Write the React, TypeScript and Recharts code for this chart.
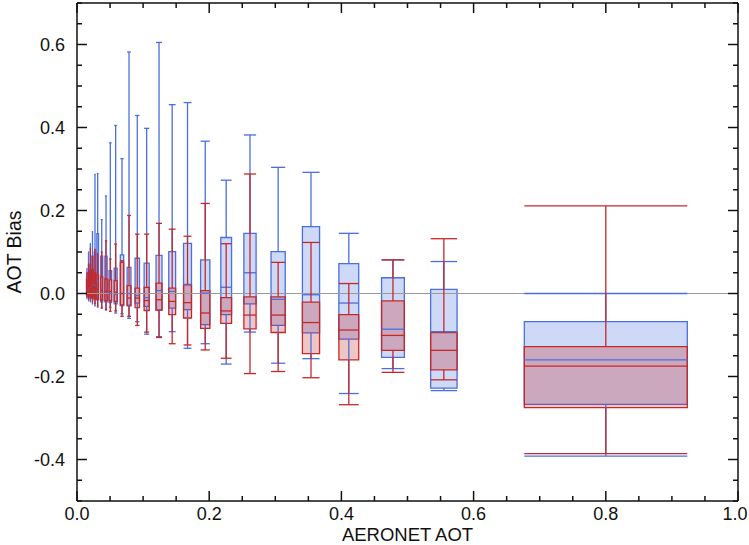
import React from 'react';
import { ComposedChart, XAxis, YAxis, Line, ReferenceArea, ReferenceLine } from 'recharts';

// AERONET AOT bins (centre) and drawn box width, both in AOT units
const binCenter = [0.015, 0.0174, 0.0202, 0.0234, 0.0272, 0.0313, 0.0374, 0.0439, 0.0504, 0.0585, 0.0681, 0.0787, 0.0912, 0.1054, 0.1241, 0.144, 0.1672, 0.194, 0.2257, 0.2617, 0.3043, 0.354, 0.4112, 0.478, 0.555, 0.8];
const boxWidth = [0.0012, 0.0014, 0.0016, 0.0019, 0.0022, 0.0025, 0.003, 0.0034, 0.0039, 0.0045, 0.0051, 0.0058, 0.0067, 0.0077, 0.009, 0.0104, 0.012, 0.014, 0.0163, 0.0185, 0.0215, 0.026, 0.03, 0.0345, 0.04, 0.2466];

// blue series
const blueLow = [-0.012, -0.018, -0.02, -0.025, -0.03, -0.033, -0.035, -0.04, -0.033, -0.047, -0.049, -0.06, -0.068, -0.098, -0.104, -0.092, -0.132, -0.121, -0.17, -0.093, -0.168, -0.157, -0.241, -0.181, -0.234, -0.392];
const blueQ1 = [-0.005, -0.008, -0.01, -0.012, -0.015, -0.015, -0.02, -0.02, -0.022, -0.025, -0.027, -0.028, -0.023, -0.031, -0.04, -0.035, -0.039, -0.075, -0.051, -0.025, -0.077, -0.095, -0.11, -0.154, -0.228, -0.267];
const blueMedian = [0.008, 0.01, 0.015, 0.02, 0.02, 0.03, 0.01, 0.005, 0.0, -0.002, 0.0, 0.0, -0.005, -0.01, 0.007, 0.005, 0.022, 0.001, 0.015, 0.05, -0.014, -0.003, -0.023, -0.086, -0.092, -0.16];
const blueQ3 = [0.035, 0.05, 0.07, 0.09, 0.1, 0.144, 0.09, 0.09, 0.055, 0.061, 0.093, 0.063, 0.085, 0.073, 0.092, 0.101, 0.121, 0.081, 0.135, 0.145, 0.101, 0.161, 0.072, 0.038, 0.01, -0.068];
const blueHigh = [0.06, 0.1, 0.12, 0.149, 0.287, 0.289, 0.178, 0.235, 0.363, 0.405, 0.325, 0.582, 0.429, 0.398, 0.605, 0.455, 0.46, 0.367, 0.273, 0.382, 0.304, 0.292, 0.145, 0.081, 0.077, 0.0];

// red series
const redLow = [-0.008, -0.012, -0.015, -0.02, -0.025, -0.03, -0.035, -0.038, -0.043, -0.042, -0.055, -0.055, -0.077, -0.093, -0.106, -0.121, -0.124, -0.136, -0.156, -0.193, -0.188, -0.203, -0.268, -0.19, -0.208, -0.386];
const redQ1 = [-0.003, -0.005, -0.007, -0.01, -0.012, -0.014, -0.015, -0.017, -0.017, -0.019, -0.029, -0.03, -0.034, -0.041, -0.04, -0.051, -0.059, -0.084, -0.072, -0.085, -0.094, -0.145, -0.16, -0.137, -0.184, -0.275];
const redMedian = [0.012, 0.015, 0.018, 0.015, 0.012, 0.01, 0.008, 0.005, 0.005, 0.003, 0.0, -0.011, -0.011, -0.017, -0.015, -0.019, -0.022, -0.047, -0.042, -0.052, -0.052, -0.07, -0.088, -0.101, -0.137, -0.175];
const redQ3 = [0.04, 0.05, 0.055, 0.058, 0.05, 0.045, 0.04, 0.035, 0.033, 0.031, 0.075, 0.019, 0.013, 0.015, 0.025, 0.013, 0.021, 0.007, -0.01, -0.008, -0.008, -0.021, -0.051, -0.018, -0.094, -0.128];
const redHigh = [0.05, 0.072, 0.109, 0.09, 0.106, 0.095, 0.1, 0.127, 0.083, 0.119, 0.079, 0.188, 0.143, 0.143, 0.169, 0.155, 0.138, 0.217, 0.12, 0.288, 0.075, 0.123, 0.024, 0.081, 0.132, 0.211];

const xTicks = [0, 0.05, 0.1, 0.15, 0.2, 0.25, 0.3, 0.35, 0.4, 0.45, 0.5, 0.55, 0.6, 0.65, 0.7, 0.75, 0.8, 0.85, 0.9, 0.95, 1.0];
const yTicks = [-0.5, -0.45, -0.4, -0.35, -0.3, -0.25, -0.2, -0.15, -0.1, -0.05, 0, 0.05, 0.1, 0.15, 0.2, 0.25, 0.3, 0.35, 0.4, 0.45, 0.5, 0.55, 0.6, 0.65, 0.7];

const rows = binCenter.map((x, i) => ({ x, blueMed: blueMedian[i], redMed: redMedian[i] }));

const BLUE = '#4a6fe0';
const RED = '#c62828';
const AXIS = '#111';
const FONT = '"Liberation Sans", Arial, Helvetica, sans-serif';

const isMajor = (v: number) => Math.abs(v * 5 - Math.round(v * 5)) < 1e-6;

const BottomTick = (p: any) => {
  const v = p.payload.value;
  const major = isMajor(v);
  return (
    <g>
      <line x1={p.x} x2={p.x} y1={p.y} y2={p.y - (major ? 10 : 5)} stroke={AXIS} strokeWidth={1.5} />
      {major && (
        <text x={Math.min(p.x, 735)} y={p.y + 19} textAnchor="middle" fontSize={18} fontFamily={FONT} fill="#111">
          {v.toFixed(1)}
        </text>
      )}
    </g>
  );
};

const TopTick = (p: any) => {
  const major = isMajor(p.payload.value);
  return <line x1={p.x} x2={p.x} y1={p.y} y2={p.y + (major ? 10 : 5)} stroke={AXIS} strokeWidth={1.5} />;
};

const LeftTick = (p: any) => {
  const v = p.payload.value;
  const major = isMajor(v);
  return (
    <g>
      <line x1={p.x} x2={p.x + (major ? 10 : 5)} y1={p.y} y2={p.y} stroke={AXIS} strokeWidth={1.5} />
      {major && (
        <text x={p.x - 12} y={p.y + 6.5} textAnchor="end" fontSize={18} fontFamily={FONT} fill="#111">
          {v.toFixed(1)}
        </text>
      )}
    </g>
  );
};

const RightTick = (p: any) => {
  const major = isMajor(p.payload.value);
  return <line x1={p.x} x2={p.x - (major ? 10 : 5)} y1={p.y} y2={p.y} stroke={AXIS} strokeWidth={1.5} />;
};

function boxSeries(name: string, color: string, low: number[], q1: number[], med: number[], q3: number[], high: number[]) {
  const out: React.ReactNode[] = [];
  binCenter.forEach((c, i) => {
    const l = c - boxWidth[i] / 2;
    const r = c + boxWidth[i] / 2;
    const ln = { stroke: color, strokeWidth: 1.3 };
    out.push(
      <ReferenceArea key={`${name}-box-${i}`} x1={l} x2={r} y1={q1[i]} y2={q3[i]} fill={color} fillOpacity={0.27} stroke={color} strokeWidth={1.3} />,
      <ReferenceLine key={`${name}-med-${i}`} segment={[{ x: l, y: med[i] }, { x: r, y: med[i] }]} {...ln} />,
      <ReferenceLine key={`${name}-up-${i}`} segment={[{ x: c, y: q3[i] }, { x: c, y: high[i] }]} {...ln} />,
      <ReferenceLine key={`${name}-dn-${i}`} segment={[{ x: c, y: low[i] }, { x: c, y: q1[i] }]} {...ln} />,
      <ReferenceLine key={`${name}-hc-${i}`} segment={[{ x: l, y: high[i] }, { x: r, y: high[i] }]} {...ln} />,
      <ReferenceLine key={`${name}-lc-${i}`} segment={[{ x: l, y: low[i] }, { x: r, y: low[i] }]} {...ln} />,
    );
  });
  return out;
}

const YTitle = (p: any) => {
  const vb = p.viewBox || { x: 0, y: 0, width: 77, height: 498 };
  const cy = vb.y + vb.height / 2;
  return (
    <text x={21} y={cy} transform={`rotate(-90, 21, ${cy})`} textAnchor="middle" fontSize={19.5} fontFamily={FONT} fill="#111">
      AOT Bias
    </text>
  );
};

const XTitle = (p: any) => {
  const vb = p.viewBox || { x: 77, y: 501, width: 661, height: 44 };
  return (
    <text x={vb.x + vb.width / 2} y={541} textAnchor="middle" fontSize={18.5} fontFamily={FONT} fill="#111">
      AERONET AOT
    </text>
  );
};

export default function App() {
  const axisLine = { stroke: AXIS, strokeWidth: 1.5 };
  return (
    <div style={{ position: 'absolute', left: 0, top: 0, width: 749, height: 545, background: '#fff' }}>
      <ComposedChart width={749} height={545} data={rows} margin={{ top: 2, right: 10, bottom: 0, left: 0 }}>
        <XAxis
          dataKey="x"
          type="number"
          domain={[0, 1]}
          allowDataOverflow
          ticks={xTicks}
          interval={0}
          tickSize={0}
          tickMargin={0}
          tickLine={false}
          tick={BottomTick}
          height={44}
          axisLine={axisLine}
          label={{ content: XTitle }}
        />
        <XAxis
          xAxisId="top"
          dataKey="x"
          orientation="top"
          type="number"
          domain={[0, 1]}
          allowDataOverflow
          ticks={xTicks}
          interval={0}
          tickSize={0}
          tickMargin={0}
          tickLine={false}
          tick={TopTick}
          height={1}
          axisLine={axisLine}
        />
        <YAxis
          type="number"
          domain={[-0.5, 0.7]}
          allowDataOverflow
          ticks={yTicks}
          interval={0}
          tickSize={0}
          tickMargin={0}
          tickLine={false}
          tick={LeftTick}
          width={77}
          axisLine={axisLine}
          label={{ content: YTitle }}
        />
        <YAxis
          yAxisId="right"
          orientation="right"
          type="number"
          domain={[-0.5, 0.7]}
          allowDataOverflow
          ticks={yTicks}
          interval={0}
          tickSize={0}
          tickMargin={0}
          tickLine={false}
          tick={RightTick}
          width={1}
          axisLine={axisLine}
        />
        <Line dataKey="blueMed" stroke="none" dot={false} activeDot={false} legendType="none" isAnimationActive={false} />
        <Line xAxisId="top" yAxisId="right" dataKey="redMed" stroke="none" dot={false} activeDot={false} legendType="none" isAnimationActive={false} />
        <ReferenceLine y={0} stroke="#9a9a9a" strokeWidth={1} />
        {boxSeries('blue', BLUE, blueLow, blueQ1, blueMedian, blueQ3, blueHigh)}
        {boxSeries('red', RED, redLow, redQ1, redMedian, redQ3, redHigh)}
      </ComposedChart>
    </div>
  );
}
